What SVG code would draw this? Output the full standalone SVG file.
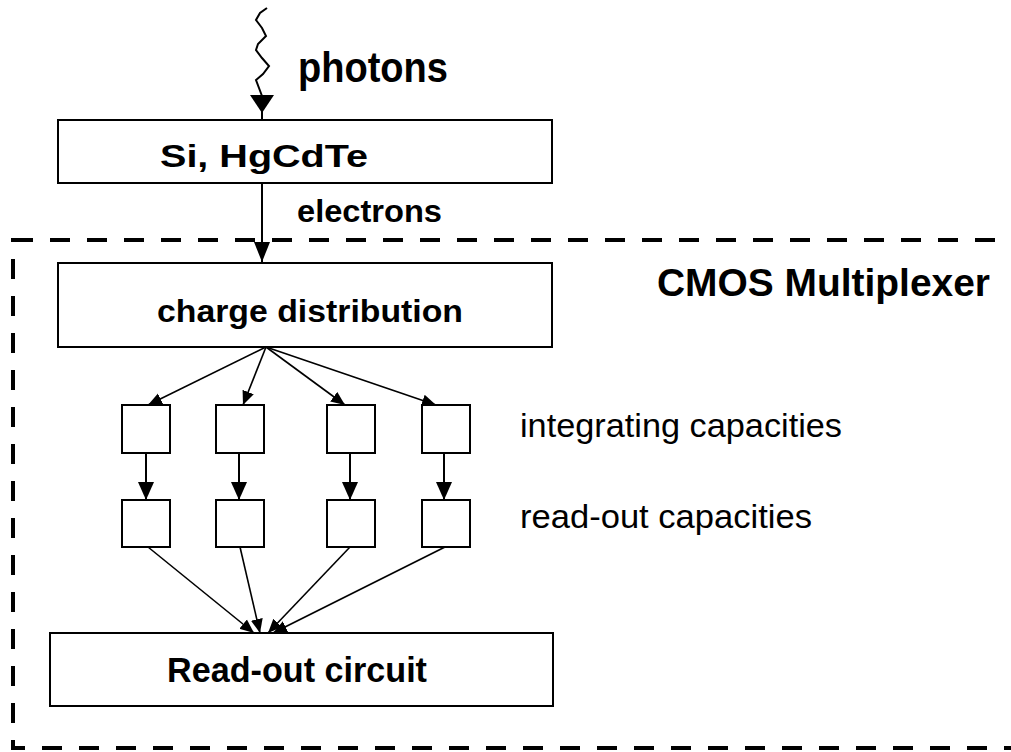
<svg xmlns="http://www.w3.org/2000/svg" width="1011" height="752" viewBox="0 0 1011 752">
<style>
.box{fill:#fff;stroke:#000;stroke-width:2}
.lbl{font-family:"Liberation Sans",Arial,sans-serif;font-weight:bold;fill:#000}
.reg{font-family:"Liberation Sans",Arial,sans-serif;fill:#000}
.ln{stroke:#000;stroke-width:2;fill:none}
.thin{stroke:#000;stroke-width:1.6;fill:none}
</style>
<defs>
<marker id="big" viewBox="0 0 20 20" refX="20" refY="10" markerWidth="20" markerHeight="20" markerUnits="userSpaceOnUse" orient="auto">
<path d="M0,2 L20,10 L0,18 Z" fill="#000"/>
</marker>
<marker id="small" viewBox="0 0 14 14" refX="14" refY="7" markerWidth="14" markerHeight="14" markerUnits="userSpaceOnUse" orient="auto">
<path d="M0,1 L14,7 L0,13 Z" fill="#000"/>
</marker>
<marker id="mid" viewBox="0 0 18 18" refX="18" refY="9" markerWidth="18" markerHeight="18" markerUnits="userSpaceOnUse" orient="auto">
<path d="M0,1 L18,9 L0,17 Z" fill="#000"/>
</marker>
</defs>

<g id="multiplexer">
<rect x="13" y="240" width="1010" height="508" fill="none" stroke="#000" stroke-width="4" stroke-dasharray="20 17"/>
<text class="lbl" x="657" y="296" font-size="39" textLength="333" lengthAdjust="spacingAndGlyphs">CMOS Multiplexer</text>
</g>

<g id="photons">
<text class="lbl" x="298" y="82" font-size="43" textLength="150" lengthAdjust="spacingAndGlyphs">photons</text>
</g>

<g id="detector">
<rect class="box" x="58" y="120" width="494" height="63"/>
<text class="lbl" x="160" y="167" font-size="32" textLength="208" lengthAdjust="spacingAndGlyphs">Si, HgCdTe</text>
</g>

<g id="electrons">
<text class="lbl" x="297" y="222" font-size="32" textLength="145" lengthAdjust="spacingAndGlyphs">electrons</text>
</g>

<g id="charge">
<rect class="box" x="58" y="263" width="494" height="84"/>
<text class="lbl" x="157" y="322" font-size="32" textLength="306" lengthAdjust="spacingAndGlyphs">charge distribution</text>
</g>

<g id="int1"><rect class="box" x="122" y="405" width="48" height="48"/></g>
<g id="int2"><rect class="box" x="216" y="405" width="48" height="48"/></g>
<g id="int3"><rect class="box" x="327" y="405" width="48" height="48"/></g>
<g id="int4"><rect class="box" x="422" y="405" width="48" height="48"/></g>
<g id="ro1"><rect class="box" x="122" y="500" width="48" height="47"/></g>
<g id="ro2"><rect class="box" x="216" y="500" width="48" height="47"/></g>
<g id="ro3"><rect class="box" x="327" y="500" width="48" height="47"/></g>
<g id="ro4"><rect class="box" x="422" y="500" width="48" height="47"/></g>

<g id="labels">
<text class="reg" x="520" y="437" font-size="33" textLength="322" lengthAdjust="spacingAndGlyphs">integrating capacities</text>
<text class="reg" x="520" y="528" font-size="33" textLength="292" lengthAdjust="spacingAndGlyphs">read-out capacities</text>
</g>

<g id="readout">
<rect class="box" x="50" y="633" width="503" height="73"/>
<text class="lbl" x="167" y="682" font-size="35" textLength="260" lengthAdjust="spacingAndGlyphs">Read-out circuit</text>
</g>

<g id="connectors">
<path class="ln" d="M267,8 L260,13 L256,20 L262,28 L266,36 L258,44 L256,50 L262,58 L269,66 L263,74 L256,80 L259,88 L262,96" stroke-width="1.5"/>
<path d="M250,95 L274,95 L262,113 Z" fill="#000"/>
<line class="ln" x1="262" y1="110" x2="262" y2="120"/>
<line class="ln" x1="262" y1="183" x2="262" y2="262" marker-end="url(#big)"/>
<line class="thin" x1="266" y1="347" x2="148" y2="405" marker-end="url(#small)"/>
<line class="thin" x1="266" y1="347" x2="243" y2="405" marker-end="url(#small)"/>
<line class="thin" x1="266" y1="347" x2="345" y2="405" marker-end="url(#small)"/>
<line class="thin" x1="266" y1="347" x2="436" y2="405" marker-end="url(#small)"/>
<line class="ln" x1="146" y1="453" x2="146" y2="500" marker-end="url(#mid)"/>
<line class="ln" x1="239" y1="453" x2="239" y2="500" marker-end="url(#mid)"/>
<line class="ln" x1="350" y1="453" x2="350" y2="500" marker-end="url(#mid)"/>
<line class="ln" x1="444" y1="453" x2="444" y2="500" marker-end="url(#mid)"/>
<line class="thin" x1="148" y1="547" x2="254" y2="633" marker-end="url(#small)"/>
<line class="thin" x1="240" y1="547" x2="260" y2="633" marker-end="url(#small)"/>
<line class="thin" x1="350" y1="547" x2="268" y2="633" marker-end="url(#small)"/>
<line class="thin" x1="445" y1="547" x2="273" y2="633" marker-end="url(#small)"/>
</g>
</svg>
